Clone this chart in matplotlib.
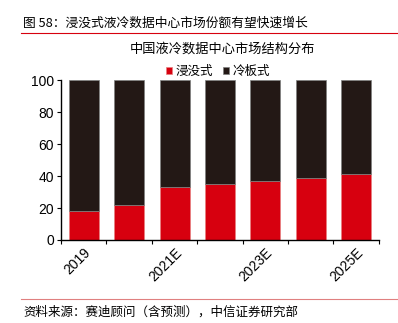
import matplotlib.pyplot as plt
import numpy as np

plt.rcParams['font.family'] = ['Noto Sans CJK SC', 'DejaVu Sans']

# 数据
years = ['2019', '2020', '2021E', '2022E', '2023E', '2024E', '2025E']
immersion = [18, 22, 33, 35, 37, 39, 41]
cold_plate = [100 - v for v in immersion]

red = '#d7000f'
dark = '#231815'
num_font = ['Liberation Sans', 'DejaVu Sans']

fig = plt.figure(figsize=(3.98, 3.23), dpi=100)
ax = fig.add_axes([0.1533, 0.257, 0.7987, 0.495])

x = np.arange(len(years))
ax.bar(x, immersion, width=0.66, color=red, edgecolor='#e88080', linewidth=0.5, label='浸没式')
ax.bar(x, cold_plate, width=0.66, bottom=immersion, color=dark, edgecolor='#808080',
       linewidth=0.5, label='冷板式')

ax.set_xlim(-0.5, len(years) - 0.5)
ax.set_ylim(0, 100)
ax.set_yticks([0, 20, 40, 60, 80, 100])
ax.set_yticklabels([str(v) for v in [0, 20, 40, 60, 80, 100]], family=num_font, fontsize=10)
ax.set_xticks(np.arange(-0.5, len(years), 1.0))
ax.set_xticklabels([])
ax.set_xticks(x[::2], minor=True)
ax.set_xticklabels([years[i] for i in x[::2]], minor=True, rotation=45, ha='right',
                   rotation_mode='anchor', fontsize=10, family=num_font)
ax.tick_params(axis='x', which='minor', length=0, pad=4)
ax.tick_params(axis='x', which='major', length=3, width=0.8, direction='out')
ax.tick_params(axis='y', length=3, width=0.8, pad=2)
for s in ['top', 'right']:
    ax.spines[s].set_visible(False)
for s in ['left', 'bottom']:
    ax.spines[s].set_linewidth(1.0)

# 标题和图例
fig.text(0.558, 0.848, '中国液冷数据中心市场结构分布', ha='center', va='center', fontsize=9.5)
ax.legend(loc='center', bbox_to_anchor=(0.495, 1.055), ncol=2, frameon=False, fontsize=9,
          handlelength=0.45, handleheight=0.45, handletextpad=0.3, columnspacing=0.8,
          borderaxespad=0)

# 页眉、页脚
fig.text(0.058, 0.928, '图 58：浸没式液冷数据中心市场份额有望快速增长', ha='left', va='center', fontsize=9.2)
fig.add_artist(plt.Line2D([0.052, 1.0], [0.897, 0.897], color='#d7000f', linewidth=0.8))
fig.add_artist(plt.Line2D([0.052, 1.0], [0.074, 0.074], color='#e08080', linewidth=0.8))
fig.text(0.058, 0.034, '资料来源：赛迪顾问（含预测），中信证券研究部', ha='left', va='center', fontsize=9)

fig.savefig('out.png', dpi=100)
